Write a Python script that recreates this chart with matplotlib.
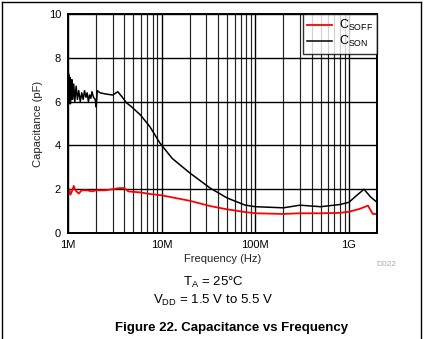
import matplotlib
matplotlib.use('Agg')
from matplotlib import pyplot as plt
from matplotlib.ticker import LogLocator, FixedLocator, NullFormatter
from matplotlib.lines import Line2D

plt.rcParams['font.family'] = ['Liberation Sans', 'DejaVu Sans']
plt.rcParams['mathtext.fontset'] = 'custom'
plt.rcParams['mathtext.rm'] = 'Liberation Sans'

# frequency in MHz, capacitance in pF
freq_on = [1.0, 1.01, 1.02, 1.03, 1.04, 1.05, 1.06, 1.07, 1.08, 1.1, 1.12, 1.15,
           1.18, 1.22, 1.26, 1.3, 1.35, 1.4, 1.45, 1.5, 1.55, 1.6, 1.65, 1.7,
           1.75, 1.8, 1.87, 1.95, 2.0, 2.05, 2.2, 2.5, 3.0, 3.4, 3.8, 4.2, 4.8,
           5.9, 7.5, 9.6, 13, 20, 33, 50, 77, 100, 200, 300, 500, 800, 1000,
           1200, 1450, 1700, 2000]
cap_on = [5.7, 7.3, 5.9, 7.2, 6.0, 7.1, 5.9, 6.9, 6.1, 7.0, 6.1, 6.8,
          6.0, 6.7, 6.1, 6.5, 6.0, 6.4, 6.1, 6.5, 6.2, 6.4, 6.0, 6.3,
          6.15, 6.45, 6.2, 6.1, 5.75, 6.5, 6.4, 6.35, 6.3, 6.45, 6.2, 5.95, 5.75,
          5.4, 4.85, 4.1, 3.4, 2.74, 2.05, 1.6, 1.28, 1.2, 1.15, 1.27, 1.2, 1.3, 1.4,
          1.7, 2.0, 1.65, 1.4]

freq_off = [1.0, 1.03, 1.06, 1.1, 1.15, 1.2, 1.3, 1.4, 1.6, 1.8, 2.0, 2.5, 3.0,
            3.5, 4.0, 4.4, 6, 7.5, 10, 20, 33, 50, 77, 100, 200, 300, 500, 800,
            1000, 1300, 1600, 1800, 2000]
cap_off = [1.7, 2.0, 1.75, 1.9, 2.15, 1.95, 1.8, 1.95, 1.95, 1.9, 1.95, 1.95, 2.0,
           2.05, 2.05, 1.9, 1.85, 1.78, 1.72, 1.47, 1.23, 1.08, 0.96, 0.9, 0.87, 0.9, 0.9, 0.92,
           0.97, 1.1, 1.25, 0.87, 0.87]

fig = plt.figure(figsize=(4.28, 3.39), dpi=100)
ax = fig.add_axes([0.159, 0.3127, 0.722, 0.646])

ax.plot([f * 1e6 for f in freq_off], cap_off, color='#ff0000', lw=1.3, label=r'C$_{\mathregular{SOFF}}$')
ax.plot([f * 1e6 for f in freq_on], cap_on, color='black', lw=1.1, label=r'C$_{\mathregular{SON}}$')

ax.set_xscale('log')
ax.set_xlim(1e6, 2e9)
ax.set_ylim(0, 10)
ax.xaxis.set_major_locator(FixedLocator([1e6, 1e7, 1e8, 1e9]))
ax.set_xticklabels(['1M', '10M', '100M', '1G'])
ax.xaxis.set_minor_locator(LogLocator(base=10, subs=range(2, 10), numticks=20))
ax.xaxis.set_minor_formatter(NullFormatter())
ax.set_yticks([0, 2, 4, 6, 8, 10])

ax.grid(True, which='major', color='black', lw=1.0)
ax.grid(True, which='minor', axis='x', color='#222222', lw=0.85)
ax.tick_params(which='both', length=0, labelsize=8, pad=5)
for s in ax.spines.values():
    s.set_linewidth(1.4)

ax.set_xlabel('Frequency (Hz)', fontsize=8, color='#222222', labelpad=3)
ax.set_ylabel('Capacitance (pF)', fontsize=8, color='#222222', labelpad=4)

leg = ax.legend(loc='upper right', fontsize=9, frameon=True, fancybox=False,
                borderaxespad=0, handlelength=2.0, handletextpad=0.5,
                labelspacing=0.05, borderpad=0.35)
leg.get_frame().set_edgecolor('black')
leg.get_frame().set_linewidth(1.0)

fig.text(386 / 428, 1 - 265 / 339, 'D022', fontsize=6, color='#aaaaaa', ha='center', va='center')
fig.text(213 / 428, 1 - 282 / 339, r'T$_{\mathregular{A}}$ = 25°C', fontsize=9.5, ha='center', va='center')
fig.text(213 / 428, 1 - 300 / 339, r'V$_{\mathregular{DD}}$ = 1.5 V to 5.5 V', fontsize=9.5, ha='center', va='center')
fig.text(232 / 428, 1 - 328 / 339, 'Figure 22. Capacitance vs Frequency', fontsize=9.5,
         fontweight='bold', ha='center', va='center')

# page frame around the figure
fig.add_artist(Line2D([2 / 428, 421 / 428], [1 - 2 / 339, 1 - 2 / 339], color='black', lw=1))
fig.add_artist(Line2D([2 / 428, 2 / 428], [0, 1 - 2 / 339], color='black', lw=1))
fig.add_artist(Line2D([421 / 428, 421 / 428], [0, 1 - 2 / 339], color='black', lw=1))

fig.savefig('out.png', dpi=100)
